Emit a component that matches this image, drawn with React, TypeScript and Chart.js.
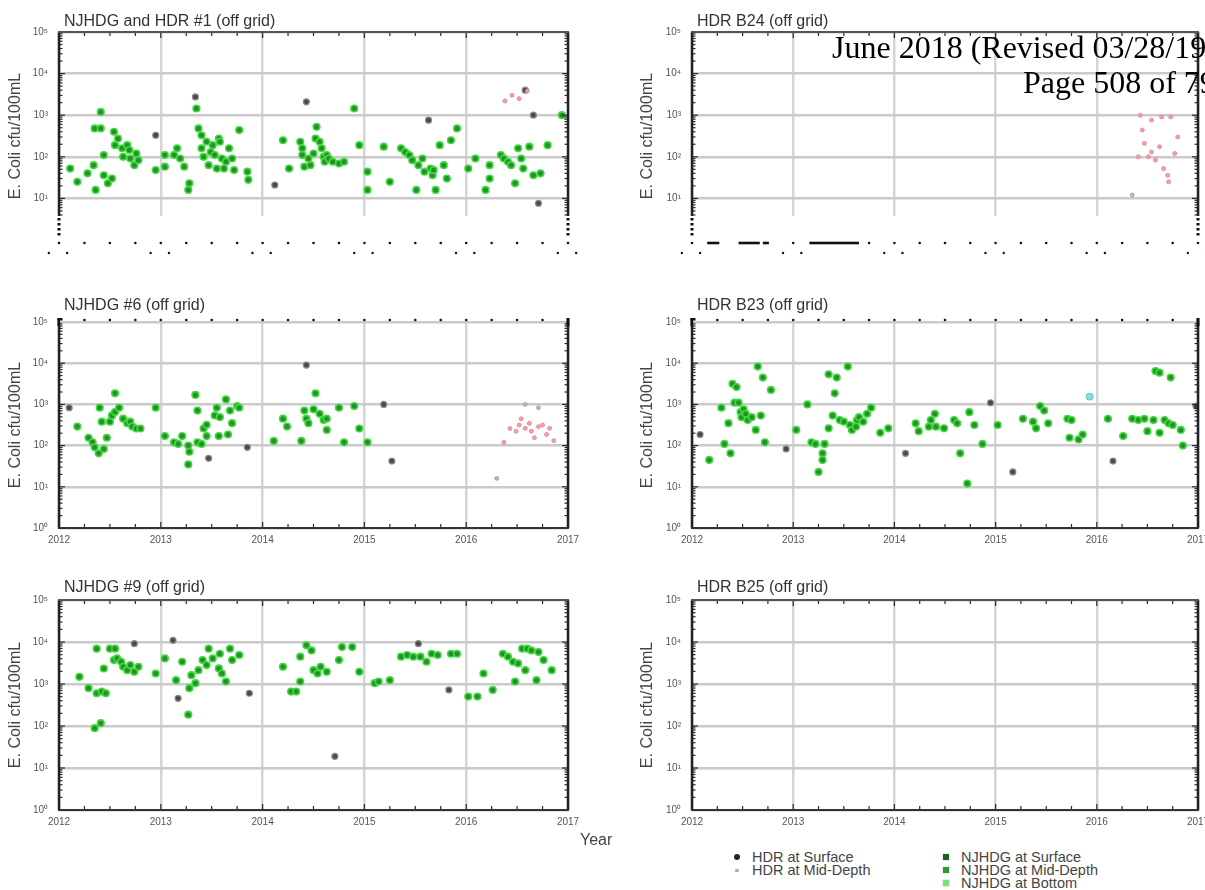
import React, { useEffect, useRef } from 'react';
import { Chart, registerables } from 'chart.js';

Chart.register(...registerables);

type Pt = [number, number]; // [decimal year, E. coli cfu/100mL]

// ---------- axes ----------
const YEARS = [2012, 2013, 2014, 2015, 2016, 2017];
const DECADES = [1, 10, 100, 1000, 10000, 100000];
const SUPERSCRIPTS = ['⁰', '¹', '²', '³', '⁴', '⁵'];
const Y_TITLE = 'E. Coli cfu/100mL';

// ---------- NJHDG and HDR #1 (off grid) ----------
const P1_NJHDG: Pt[] = [
  [2012.11, 52], [2012.18, 25], [2012.28, 40], [2012.34, 63], [2012.36, 16], [2012.35, 480], [2012.41, 1200],
  [2012.41, 480], [2012.44, 110], [2012.44, 36], [2012.48, 23], [2012.52, 30], [2012.54, 400], [2012.55, 190],
  [2012.58, 275], [2012.62, 160], [2012.63, 100], [2012.67, 190], [2012.69, 145], [2012.7, 91], [2012.74, 63],
  [2012.76, 120], [2012.78, 83], [2012.95, 48], [2013.04, 110], [2013.04, 58], [2013.13, 110], [2013.16, 160],
  [2013.19, 91], [2013.23, 58], [2013.28, 23], [2013.27, 16], [2013.35, 1450], [2013.37, 480], [2013.4, 330],
  [2013.4, 160], [2013.42, 100], [2013.45, 230], [2013.47, 63], [2013.49, 130], [2013.51, 190], [2013.53, 110],
  [2013.55, 52], [2013.57, 275], [2013.58, 230], [2013.6, 91], [2013.62, 52], [2013.64, 76], [2013.67, 160],
  [2013.7, 91], [2013.72, 48], [2013.77, 440], [2013.85, 44], [2013.86, 28], [2014.2, 250], [2014.26, 52],
  [2014.37, 230], [2014.39, 160], [2014.39, 110], [2014.41, 58], [2014.45, 91], [2014.47, 63], [2014.5, 120],
  [2014.52, 275], [2014.53, 525], [2014.56, 230], [2014.58, 160], [2014.6, 100], [2014.61, 76], [2014.63, 110],
  [2014.65, 91], [2014.69, 76], [2014.75, 69], [2014.8, 76], [2014.9, 1450], [2014.95, 190], [2015.03, 44],
  [2015.03, 16], [2015.19, 175], [2015.25, 25], [2015.36, 160], [2015.4, 130], [2015.44, 110], [2015.47, 83],
  [2015.51, 16], [2015.53, 63], [2015.57, 91], [2015.59, 44], [2015.65, 52], [2015.67, 36], [2015.68, 48],
  [2015.7, 16], [2015.74, 190], [2015.78, 63], [2015.81, 30], [2015.85, 250], [2015.91, 480], [2016.02, 52],
  [2016.09, 91], [2016.19, 16], [2016.23, 63], [2016.23, 30], [2016.34, 110], [2016.37, 91], [2016.41, 76],
  [2016.44, 63], [2016.48, 23], [2016.51, 160], [2016.54, 91], [2016.56, 52], [2016.62, 175], [2016.66, 36],
  [2016.73, 40], [2016.8, 190], [2016.94, 1000],
];
const P1_HDR_SURFACE: Pt[] = [
  [2012.95, 330], [2013.34, 2750], [2014.12, 21], [2014.43, 2100], [2015.63, 760], [2016.58, 4000],
  [2016.66, 1000], [2016.71, 7.6],
];
const P1_HDR_BOTTOM: Pt[] = [[2016.38, 2200], [2016.45, 3000], [2016.52, 2500], [2016.6, 3800]];

// ---------- HDR B24 (off grid) ----------
const P2_HDR_BOTTOM: Pt[] = [
  [2016.43, 1000], [2016.45, 440], [2016.47, 210], [2016.51, 100], [2016.54, 130], [2016.58, 83],
  [2016.62, 175], [2016.66, 52], [2016.7, 36], [2016.71, 25], [2016.73, 910], [2016.77, 120],
  [2016.54, 760], [2016.41, 100], [2016.64, 910], [2016.8, 300],
];
const P2_HDR_MID: Pt[] = [[2016.35, 12]];

// ---------- NJHDG #6 (off grid) ----------
const P3_NJHDG: Pt[] = [
  [2012.18, 290], [2012.29, 155], [2012.33, 120], [2012.35, 91], [2012.39, 65], [2012.4, 830], [2012.44, 83],
  [2012.47, 155], [2012.42, 380], [2012.5, 380], [2012.52, 540], [2012.55, 1860], [2012.55, 650], [2012.59, 830],
  [2012.63, 450], [2012.67, 350], [2012.7, 380], [2012.72, 290], [2012.76, 260], [2012.8, 260], [2012.95, 830],
  [2013.04, 170], [2013.13, 120], [2013.17, 110], [2013.21, 170], [2013.27, 100], [2013.28, 71], [2013.27, 35],
  [2013.34, 1700], [2013.36, 710], [2013.36, 120], [2013.4, 110], [2013.42, 260], [2013.45, 320], [2013.45, 170],
  [2013.53, 540], [2013.55, 830], [2013.57, 170], [2013.58, 490], [2013.64, 1320], [2013.66, 186], [2013.68, 710],
  [2013.7, 350], [2013.75, 910], [2013.77, 830], [2014.11, 130], [2014.2, 450], [2014.24, 290], [2014.38, 130],
  [2014.41, 710], [2014.43, 450], [2014.45, 350], [2014.5, 760], [2014.52, 1860], [2014.56, 590], [2014.6, 420],
  [2014.63, 450], [2014.63, 240], [2014.75, 830], [2014.8, 120], [2014.9, 910], [2014.95, 260], [2015.03, 120],
];
const P3_HDR_SURFACE: Pt[] = [
  [2012.1, 830], [2013.47, 49], [2013.85, 91], [2014.43, 9000], [2015.19, 1000], [2015.27, 42],
];
const P3_HDR_MID: Pt[] = [[2016.3, 16], [2016.58, 1000], [2016.71, 830]];
const P3_HDR_BOTTOM: Pt[] = [
  [2016.37, 120], [2016.43, 260], [2016.49, 224], [2016.52, 316], [2016.54, 447], [2016.58, 263], [2016.62, 347],
  [2016.64, 224], [2016.67, 155], [2016.71, 288], [2016.75, 316], [2016.79, 186], [2016.82, 263], [2016.86, 132],
];

// ---------- HDR B23 (off grid) ----------
const P4_NJHDG: Pt[] = [
  [2012.17, 45], [2012.29, 830], [2012.32, 110], [2012.36, 350], [2012.38, 65], [2012.4, 3160], [2012.44, 2630],
  [2012.42, 1100], [2012.46, 1100], [2012.48, 650], [2012.49, 490], [2012.51, 760], [2012.53, 590], [2012.55, 417],
  [2012.59, 490], [2012.63, 240], [2012.65, 8300], [2012.68, 537], [2012.7, 4470], [2012.72, 120], [2012.78, 2240],
  [2013.03, 240], [2013.14, 1000], [2013.18, 120], [2013.22, 110], [2013.25, 23], [2013.29, 65], [2013.29, 45],
  [2013.31, 110], [2013.35, 5370], [2013.35, 263], [2013.39, 537], [2013.41, 1860], [2013.43, 4470], [2013.46, 417],
  [2013.5, 380], [2013.54, 8300], [2013.56, 316], [2013.58, 240], [2013.62, 288], [2013.63, 417], [2013.65, 490],
  [2013.69, 380], [2013.73, 589], [2013.77, 832], [2013.86, 204], [2013.94, 263], [2014.21, 347], [2014.24, 224],
  [2014.34, 288], [2014.36, 417], [2014.4, 589], [2014.41, 288], [2014.49, 263], [2014.59, 417], [2014.62, 347],
  [2014.65, 65], [2014.72, 12], [2014.74, 646], [2014.79, 316], [2014.87, 110], [2015.02, 316], [2015.27, 447],
  [2015.37, 380], [2015.4, 263], [2015.44, 912], [2015.48, 708], [2015.52, 347], [2015.71, 447], [2015.73, 155],
  [2015.75, 417], [2015.82, 141], [2015.86, 186], [2016.11, 447], [2016.26, 170], [2016.35, 447], [2016.41, 417],
  [2016.47, 447], [2016.5, 224], [2016.56, 417], [2016.58, 6460], [2016.62, 5890], [2016.62, 204], [2016.67, 417],
  [2016.71, 347], [2016.73, 4470], [2016.75, 316], [2016.83, 240], [2016.85, 100],
];
const P4_HDR_SURFACE: Pt[] = [
  [2012.08, 186], [2012.93, 83], [2014.11, 65], [2014.95, 1096], [2015.17, 23], [2016.16, 42], [2016.98, 912],
];
const P4_NJHDG_BOTTOM: Pt[] = [[2015.93, 1550]];

// ---------- NJHDG #9 (off grid) ----------
const P5_NJHDG: Pt[] = [
  [2012.2, 1480], [2012.29, 794], [2012.37, 6920], [2012.37, 603], [2012.42, 661], [2012.44, 2340], [2012.46, 603],
  [2012.35, 89], [2012.41, 117], [2012.5, 6920], [2012.54, 3715], [2012.55, 6920], [2012.57, 4074], [2012.61, 3388],
  [2012.63, 2570], [2012.67, 2138], [2012.7, 2818], [2012.74, 1950], [2012.78, 2570], [2012.95, 1778], [2013.04, 4074],
  [2013.15, 1230], [2013.21, 3388], [2013.27, 186], [2013.28, 794], [2013.3, 1622], [2013.34, 1047], [2013.37, 2138],
  [2013.41, 3715], [2013.45, 2818], [2013.47, 6920], [2013.51, 4074], [2013.57, 2344], [2013.58, 5248], [2013.6, 1778],
  [2013.64, 1148], [2013.68, 6920], [2013.7, 3715], [2013.77, 4898], [2014.2, 2570], [2014.28, 661], [2014.33, 661],
  [2014.37, 1148], [2014.37, 4467], [2014.43, 8318], [2014.48, 6310], [2014.5, 2138], [2014.54, 1778], [2014.57, 2570],
  [2014.63, 1950], [2014.75, 3715], [2014.78, 7586], [2014.88, 7586], [2014.95, 1950], [2015.1, 1047], [2015.14, 1148],
  [2015.25, 1230], [2015.36, 4467], [2015.42, 4898], [2015.48, 4467], [2015.55, 4467], [2015.61, 3388], [2015.66, 5248],
  [2015.72, 4898], [2015.85, 5248], [2015.91, 5248], [2016.02, 501], [2016.11, 501], [2016.17, 1778], [2016.26, 724],
  [2016.36, 5248], [2016.41, 4467], [2016.46, 3388], [2016.48, 1148], [2016.51, 3090], [2016.55, 6918], [2016.58, 2138],
  [2016.6, 6918], [2016.64, 6310], [2016.69, 1230], [2016.71, 5754], [2016.76, 3715], [2016.84, 2138],
];
const P5_HDR_SURFACE: Pt[] = [
  [2012.74, 9120], [2013.12, 10965], [2013.17, 457], [2013.87, 603], [2014.71, 19], [2015.53, 9120], [2015.83, 724],
];

// ---------- legend ----------
const HDR_LEGEND = ['HDR at Surface', 'HDR at Mid-Depth'];
const NJHDG_LEGEND = ['NJHDG at Surface', 'NJHDG at Mid-Depth', 'NJHDG at Bottom'];

// ---------- look ----------
const SANS = '"Liberation Sans", Arial, Helvetica, sans-serif';
const STYLE = {
  njhdg: { bg: '#2e8a2e', border: '#3ade3a', r: 3.3, bw: 1.6 },
  njhdgBottom: { bg: '#8fdada', border: '#6cc8c8', r: 3.3, bw: 1.2 },
  hdrSurface: { bg: '#4a4a4a', border: '#8c8c8c', r: 3, bw: 1.2 },
  hdrMid: { bg: '#b8b8b8', border: '#a0a0a0', r: 2, bw: 0.8 },
  hdrBottom: { bg: '#f2a0ad', border: '#e47f91', r: 2, bw: 0.8 },
};

// row extents of the plot areas and column placement of the canvases
const ROWS: [number, number][] = [[32, 240], [322, 528], [600, 810]];
const TITLE_DY = [10, 16, 12];
const COLS = [
  { left: 0, axisW: 59, titlePad: 6 },
  { left: 630, axisW: 62, titlePad: 8 },
];
const CANVAS_W = 600;
const PAD_RIGHT = 32;
const PAD_TOP = 30;
const X_AXIS_H = 30;

interface Series {
  njhdg?: Pt[];
  njhdgBottom?: Pt[];
  hdrSurface?: Pt[];
  hdrMid?: Pt[];
  hdrBottom?: Pt[];
}

interface PanelSpec {
  title: string;
  row: number;
  col: number;
  series: Series;
  topStyle: 'solid' | 'dotted' | 'strip';
  dashes?: [number, number][];
}

const PANELS: PanelSpec[] = [
  {
    title: 'NJHDG and HDR #1 (off grid)', row: 0, col: 0, topStyle: 'strip',
    series: { njhdg: P1_NJHDG, hdrSurface: P1_HDR_SURFACE, hdrBottom: P1_HDR_BOTTOM },
  },
  {
    title: 'HDR B24 (off grid)', row: 0, col: 1, topStyle: 'strip',
    series: { hdrBottom: P2_HDR_BOTTOM, hdrMid: P2_HDR_MID },
    dashes: [[2012.15, 2012.27], [2012.46, 2012.67], [2012.7, 2012.76], [2013.16, 2013.65]],
  },
  {
    title: 'NJHDG #6 (off grid)', row: 1, col: 0, topStyle: 'dotted',
    series: { njhdg: P3_NJHDG, hdrSurface: P3_HDR_SURFACE, hdrMid: P3_HDR_MID, hdrBottom: P3_HDR_BOTTOM },
  },
  {
    title: 'HDR B23 (off grid)', row: 1, col: 1, topStyle: 'dotted',
    series: { njhdg: P4_NJHDG, hdrSurface: P4_HDR_SURFACE, njhdgBottom: P4_NJHDG_BOTTOM },
  },
  {
    title: 'NJHDG #9 (off grid)', row: 2, col: 0, topStyle: 'solid',
    series: { njhdg: P5_NJHDG, hdrSurface: P5_HDR_SURFACE },
  },
  {
    title: 'HDR B25 (off grid)', row: 2, col: 1, topStyle: 'solid',
    series: {},
  },
];

const toXY = (pts: Pt[]) => pts.map(([x, y]) => ({ x, y }));

function makeDataset(label: string, pts: Pt[] | undefined, s: { bg: string; border: string; r: number; bw: number }) {
  if (!pts || !pts.length) return null;
  return {
    label,
    data: toXY(pts),
    pointRadius: s.r,
    pointBackgroundColor: s.bg,
    pointBorderColor: s.border,
    pointBorderWidth: s.bw,
    showLine: false,
  };
}

// Border, inner ticks, panel title and the sparse tick strip of the top row.
const panelFrame = {
  id: 'panelFrame',
  afterDraw(chart: any, _args: any, o: any) {
    const { ctx, chartArea: a } = chart;
    const xs = chart.scales.x;
    const ys = chart.scales.y;
    const seg = (x1: number, y1: number, x2: number, y2: number) => {
      ctx.beginPath();
      ctx.moveTo(x1, y1);
      ctx.lineTo(x2, y2);
      ctx.stroke();
    };
    const dot = (x: number, y: number, r = 1.3) => {
      ctx.beginPath();
      ctx.arc(x, y, r, 0, Math.PI * 2);
      ctx.fill();
    };
    ctx.save();

    // log minor ticks inside the left and right edges
    ctx.strokeStyle = '#2a2a2a';
    ctx.lineWidth = 1.2;
    for (let e = 0; e < 5; e++) {
      for (let m = 1; m <= 9; m++) {
        const py = ys.getPixelForValue(m * Math.pow(10, e));
        const len = m === 1 ? 6 : 3.5;
        seg(a.left, py, a.left + len, py);
        seg(a.right, py, a.right - len, py);
      }
    }
    // quarterly ticks
    for (let q = 1; q < 20; q++) {
      const px = xs.getPixelForValue(2012 + q / 4);
      const len = q % 4 === 0 ? 6 : 4;
      seg(px, a.bottom, px, a.bottom - len);
      if (o.topStyle !== 'dotted') seg(px, a.top, px, a.top + len);
    }

    // frame
    ctx.strokeStyle = '#222';
    ctx.lineWidth = 2.5;
    seg(a.left, a.top, a.left, a.bottom);
    seg(a.right, a.top, a.right, a.bottom);
    ctx.strokeStyle = '#333';
    ctx.lineWidth = 2;
    seg(a.left - 1, a.bottom, a.right + 1, a.bottom);
    ctx.fillStyle = '#111';
    if (o.topStyle === 'dotted') {
      for (let q = 0; q <= 20; q++) dot(xs.getPixelForValue(2012 + q / 4), a.top - 2, 1.3);
      ctx.fillRect(a.left - 1.5, a.top - 4, 5, 2.5);
      ctx.fillRect(a.left - 1.5, a.top - 4, 2.5, 8);
      ctx.fillRect(a.right - 1.5, a.top - 4, 3, 8);
    } else {
      ctx.strokeStyle = '#555';
      seg(a.left - 1, a.top, a.right + 1, a.top);
    }

    // panel title
    ctx.fillStyle = '#333';
    ctx.font = `16px ${SANS}`;
    ctx.textBaseline = 'middle';
    ctx.textAlign = 'left';
    ctx.fillText(o.title, a.left + 5, a.top - o.titleDy);

    // top row: the lower band is printed as a sparse tick strip
    if (o.topStyle === 'strip') {
      const cy = a.top + 184;
      ctx.fillStyle = '#fff';
      ctx.fillRect(0, cy, chart.width, chart.height - cy);
      ctx.fillStyle = '#111';
      for (let y = cy + 2; y < cy + 18; y += 5) {
        ctx.fillRect(a.left - 1.5, y, 3, 2.5);
        ctx.fillRect(a.right - 1.5, y, 3, 2.5);
      }
      const r1 = cy + 27;
      const r2 = cy + 37;
      const dashes: [number, number][] = o.dashes || [];
      for (let q = 0; q <= 20; q++) {
        const yr = 2012 + q / 4;
        if (dashes.some(([s, e]) => yr >= s - 0.02 && yr <= e + 0.02)) continue;
        dot(xs.getPixelForValue(yr), r1, 1.3);
      }
      dashes.forEach(([s, e]) => {
        const x0 = xs.getPixelForValue(s);
        ctx.fillRect(x0, r1 - 1.3, xs.getPixelForValue(e) - x0, 2.6);
      });
      YEARS.forEach((yr) => {
        dot(xs.getPixelForValue(yr - 0.1), r2, 1.2);
        dot(xs.getPixelForValue(yr + 0.08), r2, 1.2);
      });
    }
    ctx.restore();
  },
};

function Panel({ spec }: { spec: PanelSpec }) {
  const ref = useRef<HTMLCanvasElement>(null);
  const [top, bottom] = ROWS[spec.row];
  const col = COLS[spec.col];
  const h = bottom - top + PAD_TOP + X_AXIS_H;

  useEffect(() => {
    const s = spec.series;
    const datasets = [
      makeDataset('HDR at Bottom', s.hdrBottom, STYLE.hdrBottom),
      makeDataset('HDR at Mid-Depth', s.hdrMid, STYLE.hdrMid),
      makeDataset('NJHDG', s.njhdg, STYLE.njhdg),
      makeDataset('NJHDG at Bottom', s.njhdgBottom, STYLE.njhdgBottom),
      makeDataset('HDR at Surface', s.hdrSurface, STYLE.hdrSurface),
    ].filter(Boolean) as any[];

    const chart = new Chart(ref.current!, {
      type: 'scatter',
      data: { datasets },
      options: {
        animation: false,
        responsive: false,
        devicePixelRatio: 1,
        layout: { padding: { top: PAD_TOP, right: PAD_RIGHT, left: 0, bottom: 0 } },
        plugins: {
          legend: { display: false },
          tooltip: { enabled: false },
          panelFrame: {
            title: spec.title, topStyle: spec.topStyle, dashes: spec.dashes, titleDy: TITLE_DY[spec.row],
          },
        } as any,
        scales: {
          x: {
            type: 'linear',
            min: 2012,
            max: 2017,
            afterBuildTicks: (sc: any) => {
              sc.ticks = YEARS.map((v) => ({ value: v }));
            },
            afterFit: (sc: any) => {
              sc.height = X_AXIS_H;
            },
            grid: { color: '#d4d4d4', lineWidth: 2.5, drawTicks: false },
            border: { display: false },
            ticks: {
              display: spec.topStyle !== 'strip',
              padding: 6,
              color: '#555',
              font: { family: 'Liberation Sans', size: 10 },
              maxRotation: 0,
              autoSkip: false,
              callback: (v: any) => String(v),
            },
          },
          y: {
            type: 'logarithmic',
            min: 1,
            max: 100000,
            afterBuildTicks: (sc: any) => {
              sc.ticks = DECADES.map((v) => ({ value: v }));
            },
            afterFit: (sc: any) => {
              sc.width = col.axisW;
            },
            grid: { color: '#cacaca', lineWidth: 2.5, drawTicks: false },
            border: { display: false },
            ticks: {
              padding: 11,
              color: '#555',
              font: { family: 'Liberation Sans', size: 10 },
              autoSkip: false,
              callback: (v: any) => '10' + SUPERSCRIPTS[Math.round(Math.log10(Number(v)))],
            },
            title: {
              display: true,
              text: Y_TITLE,
              color: '#444',
              font: { family: 'Liberation Sans', size: 16 },
              padding: { top: col.titlePad, bottom: 0 },
            },
          },
        },
      } as any,
      plugins: [panelFrame],
    });
    return () => chart.destroy();
  }, []);

  return (
    <canvas
      ref={ref}
      width={CANVAS_W}
      height={h}
      style={{ position: 'absolute', left: col.left, top: top - PAD_TOP, width: CANVAS_W, height: h }}
    />
  );
}

const legendText: React.CSSProperties = {
  position: 'absolute',
  font: `14.5px ${SANS}`,
  color: '#444',
  whiteSpace: 'nowrap',
  lineHeight: '13px',
};

const HDR_MARKERS = [
  { background: '#222', width: 6, height: 6, borderRadius: 3 },
  { background: '#b0b0b0', width: 4, height: 3, borderRadius: 1 },
];
const NJHDG_MARKERS = ['#1f5f1f', '#2f9a2f', '#7fe07f'];

export default function App() {
  return (
    <div
      style={{
        position: 'absolute', left: 0, top: 0, width: 1205, height: 890,
        overflow: 'hidden', background: '#fff',
      }}
    >
      {PANELS.map((p) => (
        <Panel key={p.title} spec={p} />
      ))}

      <div style={{ position: 'absolute', left: 832, top: 31, font: '32px "Liberation Serif", "Times New Roman", serif', lineHeight: '32px', color: '#000', whiteSpace: 'nowrap' }}>
        June 2018 (Revised 03/28/19)
      </div>
      <div style={{ position: 'absolute', left: 1023, top: 66, font: '32px "Liberation Serif", "Times New Roman", serif', lineHeight: '32px', color: '#000', whiteSpace: 'nowrap' }}>
        Page 508 of 79
      </div>

      <div style={{ position: 'absolute', left: 580, top: 831, font: `16px ${SANS}`, lineHeight: '18px', color: '#444' }}>Year</div>

      {HDR_LEGEND.map((t, i) => (
        <React.Fragment key={t}>
          <div style={{ position: 'absolute', left: 737 - HDR_MARKERS[i].width / 2, top: 857 + i * 13 - HDR_MARKERS[i].height / 2, width: HDR_MARKERS[i].width, height: HDR_MARKERS[i].height, background: HDR_MARKERS[i].background, borderRadius: HDR_MARKERS[i].borderRadius }} />
          <div style={{ ...legendText, left: 752, top: 851 + i * 13 }}>{t}</div>
        </React.Fragment>
      ))}
      {NJHDG_LEGEND.map((t, i) => (
        <React.Fragment key={t}>
          <div style={{ position: 'absolute', left: 943, top: 854 + i * 13, width: 6, height: 6, background: NJHDG_MARKERS[i], boxShadow: '0 0 2px #5fe05f' }} />
          <div style={{ ...legendText, left: 961, top: 851 + i * 13 }}>{t}</div>
        </React.Fragment>
      ))}
    </div>
  );
}
